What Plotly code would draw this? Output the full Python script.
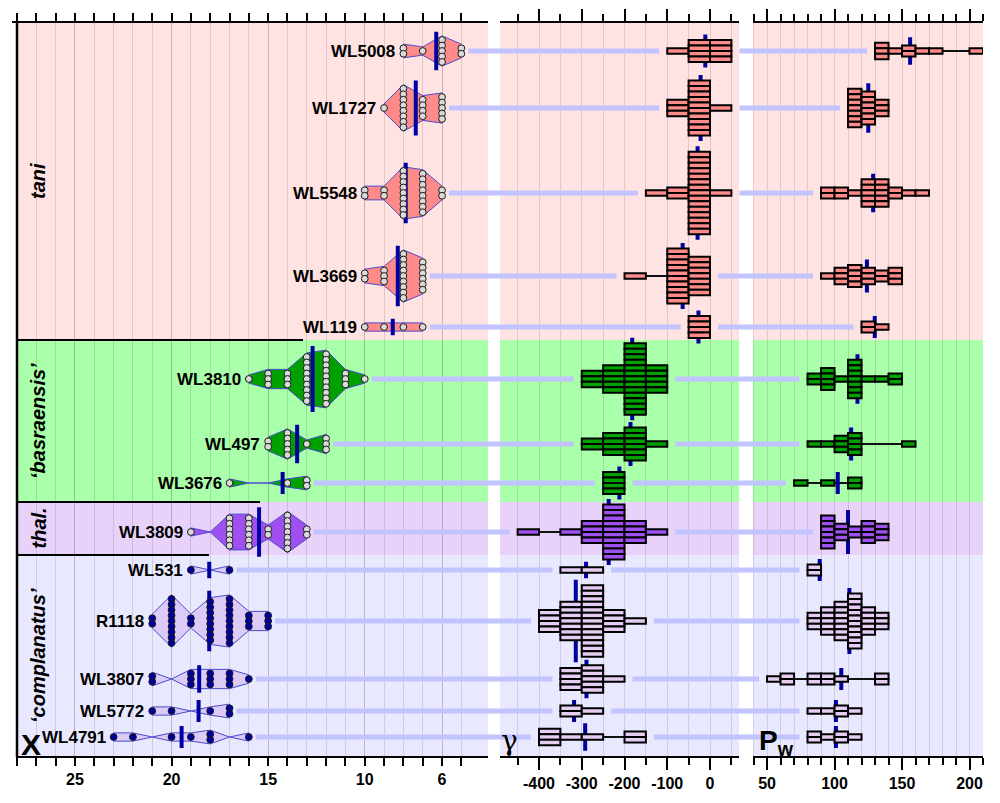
import plotly.graph_objects as go

# ---------------- data ----------------
group_names = ["tani", "‘basraensis’", "thal.", "‘complanatus’"]
specimens = ["WL5008", "WL1727", "WL5548", "WL3669", "WL119",
             "WL3810", "WL497", "WL3676",
             "WL3809",
             "WL531", "R1118", "WL3807", "WL5772", "WL4791"]
specimen_group = [0, 0, 0, 0, 0, 1, 1, 1, 2, 3, 3, 3, 3, 3]

# X: largest value of each dot plot, then counts for each unit step downwards
x_first = [8, 9, 10, 10, 10, 16, 15, 17, 19, 19, 21, 21, 21, 23]
x_counts = [
    [2, 1, 5, 2],
    [1, 8, 4, 5],
    [2, 2, 9, 8, 2],
    [2, 3, 9, 6],
    [1, 1, 1, 1],
    [1, 3, 3, 9, 10, 3, 1],
    [2, 5, 1, 3],
    [1, 0, 0, 1, 2],
    [1, 0, 6, 6, 2, 7, 2],
    [1, 0, 1],
    [2, 9, 2, 8, 9, 3, 3],
    [2, 0, 3, 3, 3, 1],
    [1, 1, 0, 1, 2],
    [1, 1, 0, 1, 1, 2, 0, 1],
]
x_mean = [6.3, 7.36, 7.88, 8.29, 8.55, 12.7, 13.5, 14.25, 15.47, 18.05, 18.05, 18.57, 18.6, 19.48]

# gamma: left edge of first bin (bins of 50), counts per bin
gamma_bin = 50
gamma_first = [-100, -100, -150, -200, -50, -300, -300, -250, -450, -350, -400, -350, -350, -400]
gamma_counts = [
    [1, 4, 4],
    [3, 10, 1],
    [1, 2, 15, 1],
    [1, 0, 10, 7],
    [4],
    [3, 5, 13, 5],
    [2, 4, 6, 1],
    [4],
    [1, 0, 1, 4, 10, 4, 1],
    [1, 1],
    [4, 7, 13, 4, 1],
    [4, 5, 1],
    [2, 1],
    [3, 1, 1, 0, 2],
]
gamma_mean = [-11, -22, -29, -64, -27, -182, -186, -212, -237, -290, -314, -289, -318, -292]

# Pw: left edge of first bin (bins of 10), counts per bin
pw_bin = 10
pw_first = [130, 110, 90, 90, 120, 80, 80, 70, 90, 80, 80, 50, 80, 80]
pw_counts = [
    [3, 1, 2, 1, 1, 0, 0, 1],
    [7, 6, 3],
    [2, 2, 1, 5, 5, 2, 1, 1],
    [1, 3, 4, 3, 2, 3],
    [2, 1],
    [2, 4, 1, 7, 1, 1, 2],
    [1, 1, 3, 4, 0, 0, 0, 1],
    [1, 0, 1, 0, 2],
    [6, 3, 2, 4, 3],
    [2],
    [3, 5, 7, 10, 5, 3],
    [1, 2, 0, 2, 2, 1, 0, 0, 2],
    [1, 1, 2, 1],
    [2, 1, 2, 1],
]
pw_mean = [156, 125, 128.6, 124, 129.8, 117, 112.3, 102.4, 110, 89, 111, 105, 101, 101]

x_major = [25, 20, 15, 10, 6]
x_labels = ["25", "20", "15", "10", "6"]
x_minor = list(range(5, 29))
g_major = [-400, -300, -200, -100, 0]
g_labels = ["-400", "-300", "-200", "-100", "0"]
g_minor = [-450, -350, -250, -150, -50, 50]
p_major = [50, 100, 150, 200]
p_labels = ["50", "100", "150", "200"]
p_minor = [v for v in range(40, 211, 10) if v not in (50, 100, 150, 200)]

# ---------------- layout geometry / styles ----------------
W, H = 1000, 803
TOP, BOTTOM = 22, 757
UNIT = 5.5                      # pixels per counted item
row_y = [51, 108, 193, 276, 327, 379, 444, 483, 532, 570, 621, 679, 711, 737]
group_bounds = [22, 340, 502, 555, 757]
sep_end = [303, 260, 209]

X_DOM, X_RANGE = (17, 494), (28, 3.31)
G_DOM, G_RANGE = (494, 746), (-505.3, 84.2)
P_DOM, P_RANGE = (746, 983), (34.4, 210)
bg_span = [(17, 488), (500, 739), (753, 983)]
axline_top = [(12, 488), (500, 739), (753, 983)]
axline_bot = [(16, 488), (500, 739), (753, 983)]

bg_colors = ["#FFE2E2", "#AAFFAA", "#E8D2FA", "#E8E8FF"]
shape_fill = ["#FF8A8A", "#00A000", "#A050F0", "#DCCBF7"]
box_fill = ["#FF8A8A", "#00A000", "#A050F0", "#E4CCF2"]
dot_fill = ["#DADADA", "#DADADA", "#DADADA", "#0000A0"]
MEAN_C = "#0000A0"
CONN_C = "#C2C4FF"
GRID = "rgba(90,60,60,0.17)"
FONT = "Liberation Sans"


def ppu(dom, rng):
    return (dom[1] - dom[0]) / abs(rng[1] - rng[0])


sx, sg, sp = ppu(X_DOM, X_RANGE), ppu(G_DOM, G_RANGE), ppu(P_DOM, P_RANGE)
GAP_X, GAP_G, GAP_P = 7 / sx, 8 / sg, 8 / sp
n = len(specimens)

fig = go.Figure()

# ---------------- connectors ----------------
cx, cy, gx, gy, qx, qy = [], [], [], [], [], []
for i in range(n):
    yc = row_y[i]
    last = x_first[i] - (len(x_counts[i]) - 1)
    cx += [last - GAP_X, X_RANGE[1], None]
    cy += [yc, yc, None]
    g_lo = gamma_first[i]
    g_hi = gamma_first[i] + gamma_bin * len(gamma_counts[i])
    gx += [G_RANGE[0], g_lo - GAP_G, None, g_hi + GAP_G, G_RANGE[1], None]
    gy += [yc, yc, None, yc, yc, None]
    qx += [P_RANGE[0], pw_first[i] - GAP_P, None]
    qy += [yc, yc, None]
for ax, xs, ys in (("x", cx, cy), ("x2", gx, gy), ("x3", qx, qy)):
    fig.add_trace(go.Scatter(x=xs, y=ys, xaxis=ax, yaxis="y", mode="lines",
                             line=dict(color=CONN_C, width=5), hoverinfo="skip"))

# ---------------- X panel: violin-like dot plots ----------------
for i in range(n):
    g = specimen_group[i]
    yc = row_y[i]
    vals = [x_first[i] - k for k in range(len(x_counts[i]))]
    half = [((c + 0.5) / 2 * UNIT if c > 0 else 0.0) for c in x_counts[i]]
    px_ = vals + vals[::-1] + [vals[0]]
    py_ = [yc - h for h in half] + [yc + h for h in half[::-1]] + [yc - half[0]]
    fig.add_trace(go.Scatter(x=px_, y=py_, xaxis="x", yaxis="y", mode="lines",
                             fill="toself", fillcolor=shape_fill[g],
                             line=dict(color="#4B4BCF", width=1), hoverinfo="skip"))
    L = (max(x_counts[i]) + 2) * UNIT
    fig.add_trace(go.Scatter(x=[x_mean[i], x_mean[i]], y=[yc - L / 2, yc + L / 2],
                             xaxis="x", yaxis="y", mode="lines",
                             line=dict(color=MEAN_C, width=4), hoverinfo="skip"))
    dx, dy = [], []
    for v, c in zip(vals, x_counts[i]):
        for k in range(c):
            dx.append(v)
            dy.append(yc + (k - (c - 1) / 2) * UNIT)
    fig.add_trace(go.Scatter(x=dx, y=dy, xaxis="x", yaxis="y", mode="markers",
                             marker=dict(size=6.8, color=dot_fill[g],
                                         line=dict(color="#1A1A1A", width=1)),
                             hoverinfo="skip"))


# ---------------- gamma and Pw panels: stacked boxes ----------------
def histo_panel(ax, first, counts, means, binw, scale):
    # thin lines across empty bins
    lx, lw, lb = [], [], []
    for i in range(n):
        if 0 in counts[i]:
            lo = first[i]
            hi = first[i] + binw * len(counts[i])
            lx.append((lo + hi) / 2)
            lw.append(hi - lo)
            lb.append(row_y[i] - 0.75)
    if lx:
        fig.add_trace(go.Bar(x=lx, y=[1.5] * len(lx), base=lb, width=lw, xaxis=ax, yaxis="y",
                             marker=dict(color="#111111", line=dict(width=0)), hoverinfo="skip"))
    # mean markers (behind the boxes)
    mx, mb, ml = [], [], []
    for i in range(n):
        L = (max(counts[i]) + 2) * UNIT
        mx.append(means[i])
        mb.append(row_y[i] - L / 2)
        ml.append(L)
    fig.add_trace(go.Bar(x=mx, y=ml, base=mb, width=[4 / scale] * n, xaxis=ax, yaxis="y",
                         marker=dict(color=MEAN_C, line=dict(width=0)), hoverinfo="skip"))
    # boxes, one trace per group colour
    for g in range(len(group_names)):
        bx, bb = [], []
        for i in range(n):
            if specimen_group[i] != g:
                continue
            for j, c in enumerate(counts[i]):
                centre = first[i] + binw * (j + 0.5)
                for k in range(c):
                    bx.append(centre)
                    bb.append(row_y[i] - c / 2 * UNIT + k * UNIT)
        fig.add_trace(go.Bar(x=bx, y=[UNIT] * len(bx), base=bb, width=[binw] * len(bx),
                             xaxis=ax, yaxis="y",
                             marker=dict(color=box_fill[g], line=dict(color="black", width=2)),
                             hoverinfo="skip"))


histo_panel("x2", gamma_first, gamma_counts, gamma_mean, gamma_bin, sg)
histo_panel("x3", pw_first, pw_counts, pw_mean, pw_bin, sp)

# dummy invisible traces so that top tick axes are drawn
for ax, rng in (("x4", X_RANGE), ("x5", G_RANGE), ("x6", P_RANGE)):
    fig.add_trace(go.Scatter(x=[(rng[0] + rng[1]) / 2], y=[400], xaxis=ax, yaxis="y",
                             mode="markers", marker=dict(opacity=0), hoverinfo="skip"))

# ---------------- shapes ----------------
shapes = []
for g in range(len(group_names)):
    for (x0, x1) in bg_span:
        shapes.append(dict(type="rect", xref="paper", yref="paper", layer="below",
                           x0=x0 / W, x1=x1 / W,
                           y0=1 - group_bounds[g + 1] / H, y1=1 - group_bounds[g] / H,
                           fillcolor=bg_colors[g], line=dict(width=0)))
for (x0, x1) in axline_top:
    shapes.append(dict(type="line", xref="paper", yref="paper", x0=x0 / W, x1=x1 / W,
                       y0=1 - TOP / H, y1=1 - TOP / H, line=dict(color="black", width=2)))
for (x0, x1) in axline_bot:
    shapes.append(dict(type="line", xref="paper", yref="paper", x0=x0 / W, x1=x1 / W,
                       y0=1 - BOTTOM / H, y1=1 - BOTTOM / H, line=dict(color="black", width=2)))
shapes.append(dict(type="line", xref="paper", yref="paper", x0=17 / W, x1=17 / W,
                   y0=1 - BOTTOM / H, y1=1 - TOP / H, line=dict(color="black", width=2.5)))
for k, xe in enumerate(sep_end):
    yb = group_bounds[k + 1]
    shapes.append(dict(type="line", xref="paper", yref="paper", x0=17 / W, x1=xe / W,
                       y0=1 - yb / H, y1=1 - yb / H, line=dict(color="black", width=2)))

# ---------------- annotations ----------------
ann = []
for i in range(n):
    ann.append(dict(x=x_first[i], y=row_y[i], xref="x", yref="y", text="<b>%s</b>" % specimens[i],
                    showarrow=False, xanchor="right", yanchor="middle", xshift=-6,
                    font=dict(family=FONT, size=17, color="black")))
for g, name in enumerate(group_names):
    yc = (group_bounds[g] + group_bounds[g + 1]) / 2
    ann.append(dict(x=38 / W, y=1 - yc / H, xref="paper", yref="paper",
                    text="<b><i>%s</i></b>" % name, textangle=-90, showarrow=False,
                    xanchor="center", yanchor="middle",
                    font=dict(family=FONT, size=20, color="black")))
ann.append(dict(x=31 / W, y=1 - 744 / H, xref="paper", yref="paper", text="<b>X</b>",
                showarrow=False, xanchor="center", yanchor="middle",
                font=dict(family=FONT, size=30, color="black")))
ann.append(dict(x=509 / W, y=1 - 740 / H, xref="paper", yref="paper", text="γ",
                showarrow=False, xanchor="center", yanchor="middle",
                font=dict(family="DejaVu Serif", size=28, color="black")))
ann.append(dict(x=776 / W, y=1 - 742 / H, xref="paper", yref="paper",
                text="<b>P</b><sub><b>w</b></sub>",
                showarrow=False, xanchor="center", yanchor="middle",
                font=dict(family=FONT, size=28, color="black")))

# ---------------- axes ----------------
tickfont = dict(family=FONT, size=16, color="black", weight="bold")


def make_axis(dom, rng, major, labels_txt, minor, major_len, minor_len, side, labels, grid,
              overlay=None):
    d = dict(domain=[dom[0] / W, dom[1] / W], range=list(rng), autorange=False,
             tickmode="array", tickvals=major, ticktext=labels_txt, ticks="outside",
             ticklen=major_len, tickwidth=2, tickcolor="black", showline=False, zeroline=False,
             showticklabels=labels, tickfont=tickfont, side=side, anchor="y",
             showgrid=grid, gridcolor=GRID, gridwidth=1, fixedrange=True,
             minor=dict(tickmode="array", tickvals=minor, ticks="outside", ticklen=minor_len,
                        tickwidth=2, tickcolor="black", showgrid=grid,
                        gridcolor=GRID, gridwidth=1))
    if overlay:
        d["overlaying"] = overlay
    return d


fig.update_layout(
    width=W, height=H, margin=dict(l=0, r=0, t=0, b=0),
    paper_bgcolor="white", plot_bgcolor="rgba(0,0,0,0)",
    showlegend=False, barmode="overlay", hovermode=False,
    xaxis=make_axis(X_DOM, X_RANGE, x_major, x_labels, x_minor, 8, 8, "bottom", True, True),
    xaxis2=make_axis(G_DOM, G_RANGE, g_major, g_labels, g_minor, 12, 7, "bottom", True, True),
    xaxis3=make_axis(P_DOM, P_RANGE, p_major, p_labels, p_minor, 12, 7, "bottom", True, True),
    xaxis4=make_axis(X_DOM, X_RANGE, x_major, x_labels, x_minor, 8, 8, "top", False, False, "x"),
    xaxis5=make_axis(G_DOM, G_RANGE, g_major, g_labels, g_minor, 12, 7, "top", False, False, "x2"),
    xaxis6=make_axis(P_DOM, P_RANGE, p_major, p_labels, p_minor, 12, 7, "top", False, False, "x3"),
    yaxis=dict(domain=[1 - BOTTOM / H, 1 - TOP / H], range=[BOTTOM, TOP], autorange=False,
               visible=False, fixedrange=True),
    shapes=shapes, annotations=ann,
)

fig.write_html("out.html", config={"displayModeBar": False},
               post_script="document.body.style.margin='0px';document.body.style.overflow='hidden';")
